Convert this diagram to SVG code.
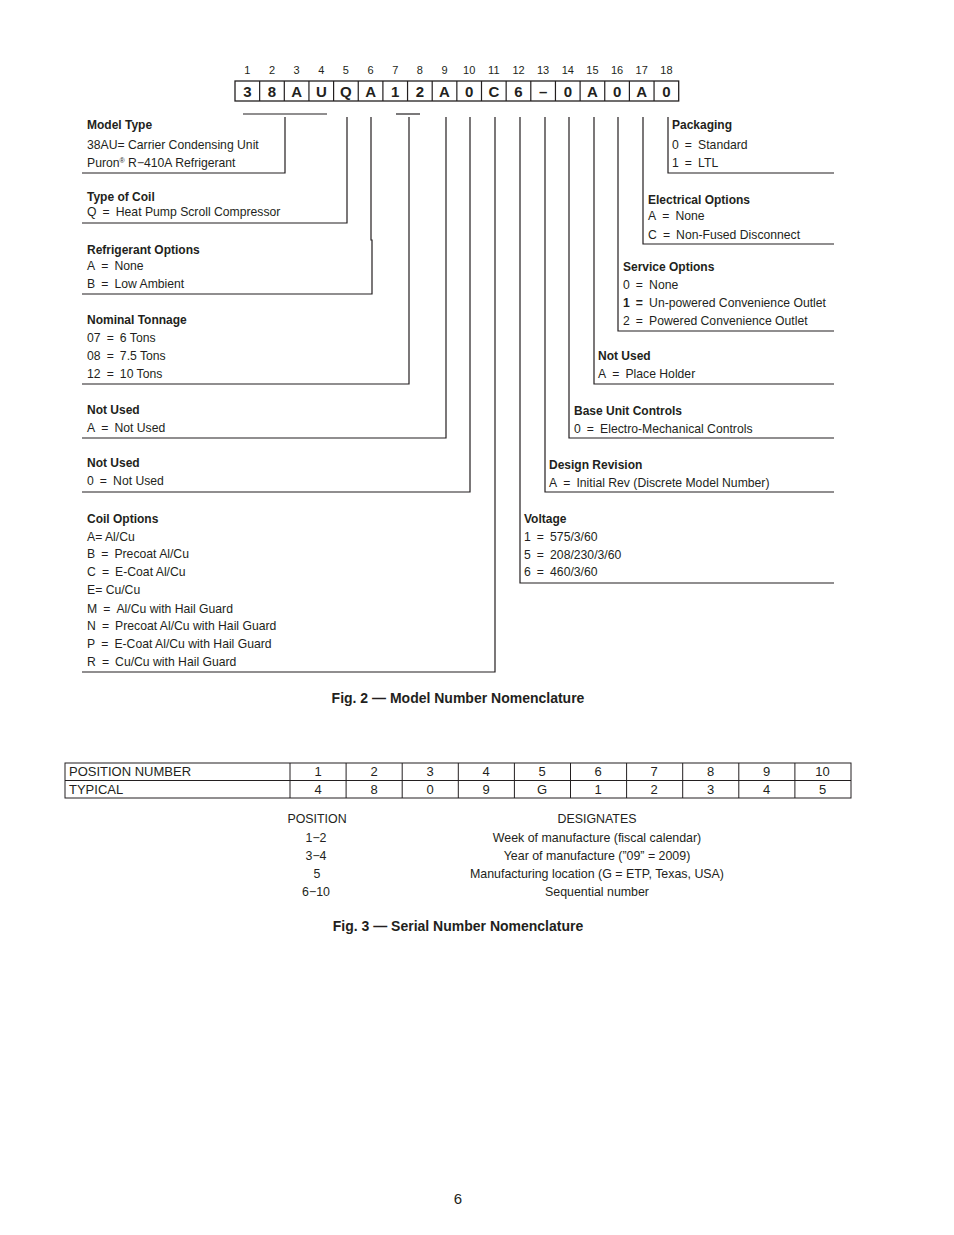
<svg xmlns="http://www.w3.org/2000/svg" width="954" height="1235" viewBox="0 0 954 1235">
<style>
text{font-family:"Liberation Sans",Arial,sans-serif;fill:#231f20}
.n{font-size:11px;text-anchor:middle}
.c{font-size:15px;font-weight:bold;text-anchor:middle}
.t{font-size:12.2px}
.s{font-size:12.4px;text-anchor:middle}
.h{font-size:12px;font-weight:bold}
.cap{font-size:14px;font-weight:bold;text-anchor:middle}
.tb{font-family:"Liberation Sans Narrow","Liberation Sans",Arial,sans-serif;font-size:13px}
.tm{text-anchor:middle}
.ln{fill:none;stroke:#231f20;stroke-width:1.2}
.cell{fill:#fff;stroke:#231f20;stroke-width:1.3}
</style>
<rect width="954" height="1235" fill="#fff"/>

<g id="model-number">
<g id="position-numbers">
<text class="n" x="247.3" y="74">1</text><text class="n" x="272" y="74">2</text><text class="n" x="296.6" y="74">3</text><text class="n" x="321.3" y="74">4</text><text class="n" x="345.9" y="74">5</text><text class="n" x="370.6" y="74">6</text><text class="n" x="395.2" y="74">7</text><text class="n" x="419.9" y="74">8</text><text class="n" x="444.5" y="74">9</text><text class="n" x="469.2" y="74">10</text><text class="n" x="493.8" y="74">11</text><text class="n" x="518.5" y="74">12</text><text class="n" x="543.1" y="74">13</text><text class="n" x="567.8" y="74">14</text><text class="n" x="592.4" y="74">15</text><text class="n" x="617.1" y="74">16</text><text class="n" x="641.7" y="74">17</text><text class="n" x="666.4" y="74">18</text>
</g>
<g id="cells">
<rect class="cell" x="235" y="81" width="443.7" height="20"/>
<path class="ln" d="M259.65,81V101M284.3,81V101M308.95,81V101M333.6,81V101M358.25,81V101M382.9,81V101M407.55,81V101M432.2,81V101M456.85,81V101M481.5,81V101M506.15,81V101M530.8,81V101M555.45,81V101M580.1,81V101M604.75,81V101M629.4,81V101M654.05,81V101"/>
<text class="c" x="247.3" y="96.5">3</text><text class="c" x="272" y="96.5">8</text><text class="c" x="296.6" y="96.5">A</text><text class="c" x="321.3" y="96.5">U</text><text class="c" x="345.9" y="96.5">Q</text><text class="c" x="370.6" y="96.5">A</text><text class="c" x="395.2" y="96.5">1</text><text class="c" x="419.9" y="96.5">2</text><text class="c" x="444.5" y="96.5">A</text><text class="c" x="469.2" y="96.5">0</text><text class="c" x="493.8" y="96.5">C</text><text class="c" x="518.5" y="96.5">6</text><text class="c" x="543.1" y="96.5">–</text><text class="c" x="567.8" y="96.5">0</text><text class="c" x="592.4" y="96.5">A</text><text class="c" x="617.1" y="96.5">0</text><text class="c" x="641.7" y="96.5">A</text><text class="c" x="666.4" y="96.5">0</text>
</g>
</g>

<g id="connectors">
<path class="ln" d="M243,114H327"/>
<path class="ln" d="M396,114H420"/>
<path class="ln" d="M285,117V173H82"/>
<path class="ln" d="M347,117V223H82"/>
<path class="ln" d="M371,117V240H372V294H82"/>
<path class="ln" d="M409,117V384H82"/>
<path class="ln" d="M446,117V438H82"/>
<path class="ln" d="M470,117V492H82"/>
<path class="ln" d="M495,117V672H82"/>
<path class="ln" d="M520,117V583H834"/>
<path class="ln" d="M545,117V492H834"/>
<path class="ln" d="M569,117V438H834"/>
<path class="ln" d="M594,117V384H834"/>
<path class="ln" d="M618,117V331H834"/>
<path class="ln" d="M643,117V244H834"/>
<path class="ln" d="M668,117V173H834"/>
</g>

<g id="model-type">
<text class="h" x="87" y="129">Model Type</text>
<text class="t" x="87" y="149">38AU= Carrier Condensing Unit</text>
<text class="t" x="87" y="167">Puron<tspan font-size="7" dy="-4">®</tspan><tspan dy="4"> R−410A Refrigerant</tspan></text>
</g>
<g id="type-of-coil">
<text class="h" x="87" y="201">Type of Coil</text>
<text class="t" x="87" y="216">Q&#8194;=&#8194;Heat Pump Scroll Compressor</text>
</g>
<g id="refrigerant-options">
<text class="h" x="87" y="254">Refrigerant Options</text>
<text class="t" x="87" y="270">A&#8194;=&#8194;None</text>
<text class="t" x="87" y="288">B&#8194;=&#8194;Low Ambient</text>
</g>
<g id="nominal-tonnage">
<text class="h" x="87" y="324">Nominal Tonnage</text>
<text class="t" x="87" y="342">07&#8194;=&#8194;6 Tons</text>
<text class="t" x="87" y="360">08&#8194;=&#8194;7.5 Tons</text>
<text class="t" x="87" y="378">12&#8194;=&#8194;10 Tons</text>
</g>
<g id="not-used-9">
<text class="h" x="87" y="414">Not Used</text>
<text class="t" x="87" y="432">A&#8194;=&#8194;Not Used</text>
</g>
<g id="not-used-10">
<text class="h" x="87" y="467">Not Used</text>
<text class="t" x="87" y="485">0&#8194;=&#8194;Not Used</text>
</g>
<g id="coil-options">
<text class="h" x="87" y="523">Coil Options</text>
<text class="t" x="87" y="541">A= Al/Cu</text>
<text class="t" x="87" y="558">B&#8194;=&#8194;Precoat Al/Cu</text>
<text class="t" x="87" y="576">C&#8194;=&#8194;E-Coat Al/Cu</text>
<text class="t" x="87" y="594">E= Cu/Cu</text>
<text class="t" x="87" y="613">M&#8194;=&#8194;Al/Cu with Hail Guard</text>
<text class="t" x="87" y="630">N&#8194;=&#8194;Precoat Al/Cu with Hail Guard</text>
<text class="t" x="87" y="648">P&#8194;=&#8194;E-Coat Al/Cu with Hail Guard</text>
<text class="t" x="87" y="666">R&#8194;=&#8194;Cu/Cu with Hail Guard</text>
</g>

<g id="packaging">
<text class="h" x="672" y="129">Packaging</text>
<text class="t" x="672" y="149">0&#8194;=&#8194;Standard</text>
<text class="t" x="672" y="167">1&#8194;=&#8194;LTL</text>
</g>
<g id="electrical-options">
<text class="h" x="648" y="204">Electrical Options</text>
<text class="t" x="648" y="220">A&#8194;=&#8194;None</text>
<text class="t" x="648" y="239">C&#8194;=&#8194;Non-Fused Disconnect</text>
</g>
<g id="service-options">
<text class="h" x="623" y="271">Service Options</text>
<text class="t" x="623" y="289">0&#8194;=&#8194;None</text>
<text class="t" x="623" y="307"><tspan font-weight="bold">1&#8194;=</tspan>&#8194;Un-powered Convenience Outlet</text>
<text class="t" x="623" y="325">2&#8194;=&#8194;Powered Convenience Outlet</text>
</g>
<g id="not-used-15">
<text class="h" x="598" y="360">Not Used</text>
<text class="t" x="598" y="378">A&#8194;=&#8194;Place Holder</text>
</g>
<g id="base-unit-controls">
<text class="h" x="574" y="415">Base Unit Controls</text>
<text class="t" x="574" y="433">0&#8194;=&#8194;Electro-Mechanical Controls</text>
</g>
<g id="design-revision">
<text class="h" x="549" y="469">Design Revision</text>
<text class="t" x="549" y="487">A&#8194;=&#8194;Initial Rev (Discrete Model Number)</text>
</g>
<g id="voltage">
<text class="h" x="524" y="523">Voltage</text>
<text class="t" x="524" y="541">1&#8194;=&#8194;575/3/60</text>
<text class="t" x="524" y="559">5&#8194;=&#8194;208/230/3/60</text>
<text class="t" x="524" y="576">6&#8194;=&#8194;460/3/60</text>
</g>

<g id="fig2-caption">
<text class="cap" x="458" y="703">Fig. 2 — Model Number Nomenclature</text>
</g>

<g id="serial-table">
<rect x="65" y="763" width="786" height="35" fill="none" stroke="#231f20" stroke-width="1"/>
<path d="M65,780.5H851M290,763V798M346.1,763V798M402.2,763V798M458.3,763V798M514.4,763V798M570.5,763V798M626.6,763V798M682.7,763V798M738.8,763V798M794.9,763V798" fill="none" stroke="#231f20" stroke-width="1"/>
<text class="tb" x="69" y="776">POSITION NUMBER</text>
<text class="tb" x="69" y="794">TYPICAL</text>
<text class="tb tm" x="318" y="776">1</text><text class="tb tm" x="374" y="776">2</text><text class="tb tm" x="430" y="776">3</text><text class="tb tm" x="486" y="776">4</text><text class="tb tm" x="542" y="776">5</text><text class="tb tm" x="598" y="776">6</text><text class="tb tm" x="654" y="776">7</text><text class="tb tm" x="710.5" y="776">8</text><text class="tb tm" x="766.5" y="776">9</text><text class="tb tm" x="822.5" y="776">10</text>
<text class="tb tm" x="318" y="794">4</text><text class="tb tm" x="374" y="794">8</text><text class="tb tm" x="430" y="794">0</text><text class="tb tm" x="486" y="794">9</text><text class="tb tm" x="542" y="794">G</text><text class="tb tm" x="598" y="794">1</text><text class="tb tm" x="654" y="794">2</text><text class="tb tm" x="710.5" y="794">3</text><text class="tb tm" x="766.5" y="794">4</text><text class="tb tm" x="822.5" y="794">5</text>
</g>

<g id="serial-legend">
<text class="s" x="317" y="823">POSITION</text>
<text class="s" x="597" y="823">DESIGNATES</text>
<text class="s" x="316" y="842">1−2</text>
<text class="s" x="597" y="842">Week of manufacture (fiscal calendar)</text>
<text class="s" x="316" y="860">3−4</text>
<text class="s" x="597" y="860">Year of manufacture (”09” = 2009)</text>
<text class="s" x="317" y="878">5</text>
<text class="s" x="597" y="878">Manufacturing location (G =  ETP, Texas, USA)</text>
<text class="s" x="316" y="896">6−10</text>
<text class="s" x="597" y="896">Sequential number</text>
</g>

<g id="fig3-caption">
<text class="cap" x="458" y="931">Fig. 3 — Serial Number Nomenclature</text>
</g>

<g id="page-number">
<text x="458" y="1204" font-family="'Liberation Serif',serif" font-size="15" text-anchor="middle">6</text>
</g>
</svg>
